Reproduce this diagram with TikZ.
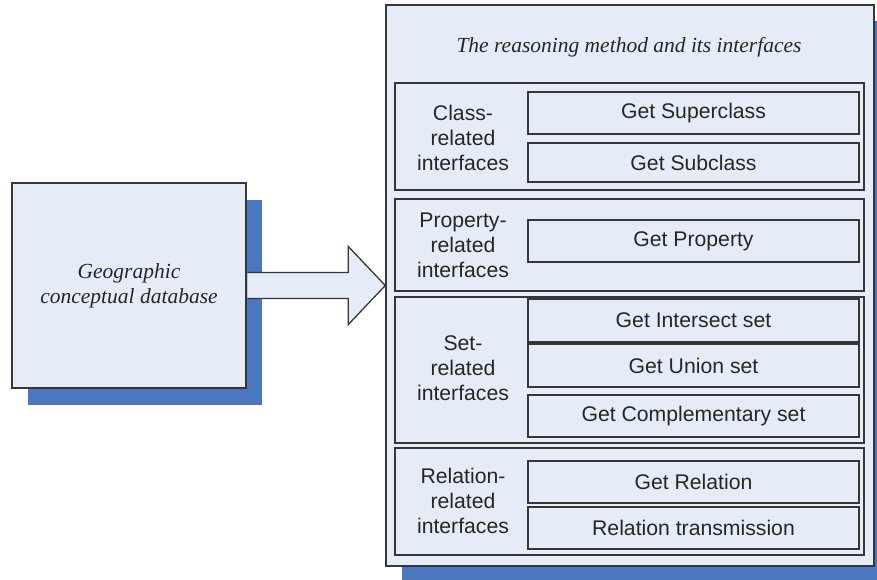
\documentclass[tikz,border=0pt]{standalone}
\usepackage{fontspec}
\setmainfont{Liberation Serif}
\setsansfont{Liberation Sans}
\usetikzlibrary{shadows,calc}
\definecolor{panel}{HTML}{E6ECF7}
\definecolor{shade}{HTML}{4A77BD}
\definecolor{edge}{HTML}{363636}
\definecolor{ink}{HTML}{262626}
\begin{document}
\begin{tikzpicture}[x=1pt,y=-1pt,
  every node/.style={text=ink},
  frame/.style={draw=edge, fill=panel, line width=1.4pt, inner sep=0pt},
  bigframe/.style={frame, drop shadow={shadow xshift=16pt, shadow yshift=-16.5pt, fill=shade, opacity=1}},
  group/.style={frame, line width=1.3pt, minimum width=469pt},
  button/.style={frame, line width=1.3pt, minimum width=331pt,
    font=\sffamily\fontsize{21.2}{25}\selectfont},
  grouplabel/.style={align=center, inner sep=0pt,
    font=\sffamily\fontsize{21.2}{25}\selectfont},
  caption/.style={align=center, inner sep=0pt,
    font=\rmfamily\itshape\fontsize{21.5}{25}\selectfont}
]
\useasboundingbox (0,0) rectangle (877,580);

% source database
\node[bigframe, minimum width=234pt, minimum height=205pt] (dbase) at (129,285.5) {};
\node[caption] (dbtext) at (dbase.center) {Geographic\\conceptual database};

% reasoning method container
\node[bigframe, minimum width=488pt, minimum height=561pt] (method) at (630,285.5) {};
\node[caption] (title) at (629,47) {The reasoning method and its interfaces};

% interface groups
\node[group, minimum height=107pt] (gclass) at (629.5,136.5) {};
\node[group, minimum height=92pt]  (gprop)  at (629.5,245) {};
\node[group, minimum height=146pt] (gset)   at (629.5,370) {};
\node[group, minimum height=107pt] (grel)   at (629.5,501.5) {};

\node[grouplabel] (lclass) at (463,137.5) {Class-\\related\\interfaces};
\node[grouplabel] (lprop)  at (463,245.5) {Property-\\related\\interfaces};
\node[grouplabel] (lset)   at (463,368) {Set-\\related\\interfaces};
\node[grouplabel] (lrel)   at (463,500.5) {Relation-\\related\\interfaces};

% interface buttons
\node[button, minimum height=42pt] (bsuper) at (693.5,113) {Get Superclass};
\node[button, minimum height=39pt] (bsub)   at (693.5,162.5) {Get Subclass};
\node[button, minimum height=42pt] (bprop)  at (693.5,241) {Get Property};
\node[button, minimum height=43pt] (binter) at (693.5,320.5) {Get Intersect set};
\node[button, minimum height=43pt] (bunion) at (693.5,365.5) {Get Union set};
\node[button, minimum height=42pt] (bcompl) at (693.5,416) {Get Complementary set};
\node[button, minimum height=42pt] (brel)   at (693.5,482) {Get Relation};
\node[button, minimum height=42pt] (btrans) at (693.5,528) {Relation transmission};

% block arrow from database to method
\coordinate (sTop) at ($(dbase.east)+(0.7,-13)$);
\coordinate (sBot) at ($(dbase.east)+(0.7,13)$);
\coordinate (hTop) at ($(method.west)+(-37,-39)$);
\coordinate (hBot) at ($(method.west)+(-37,39)$);
\fill[panel] (sTop) -| (hTop) -- (method.west) -- (hBot) |- (sBot) -- cycle;
\draw[edge, line width=1.3pt, line join=miter] (sTop) -| (hTop) -- (method.west) -- (hBot) |- (sBot);
\end{tikzpicture}
\end{document}
